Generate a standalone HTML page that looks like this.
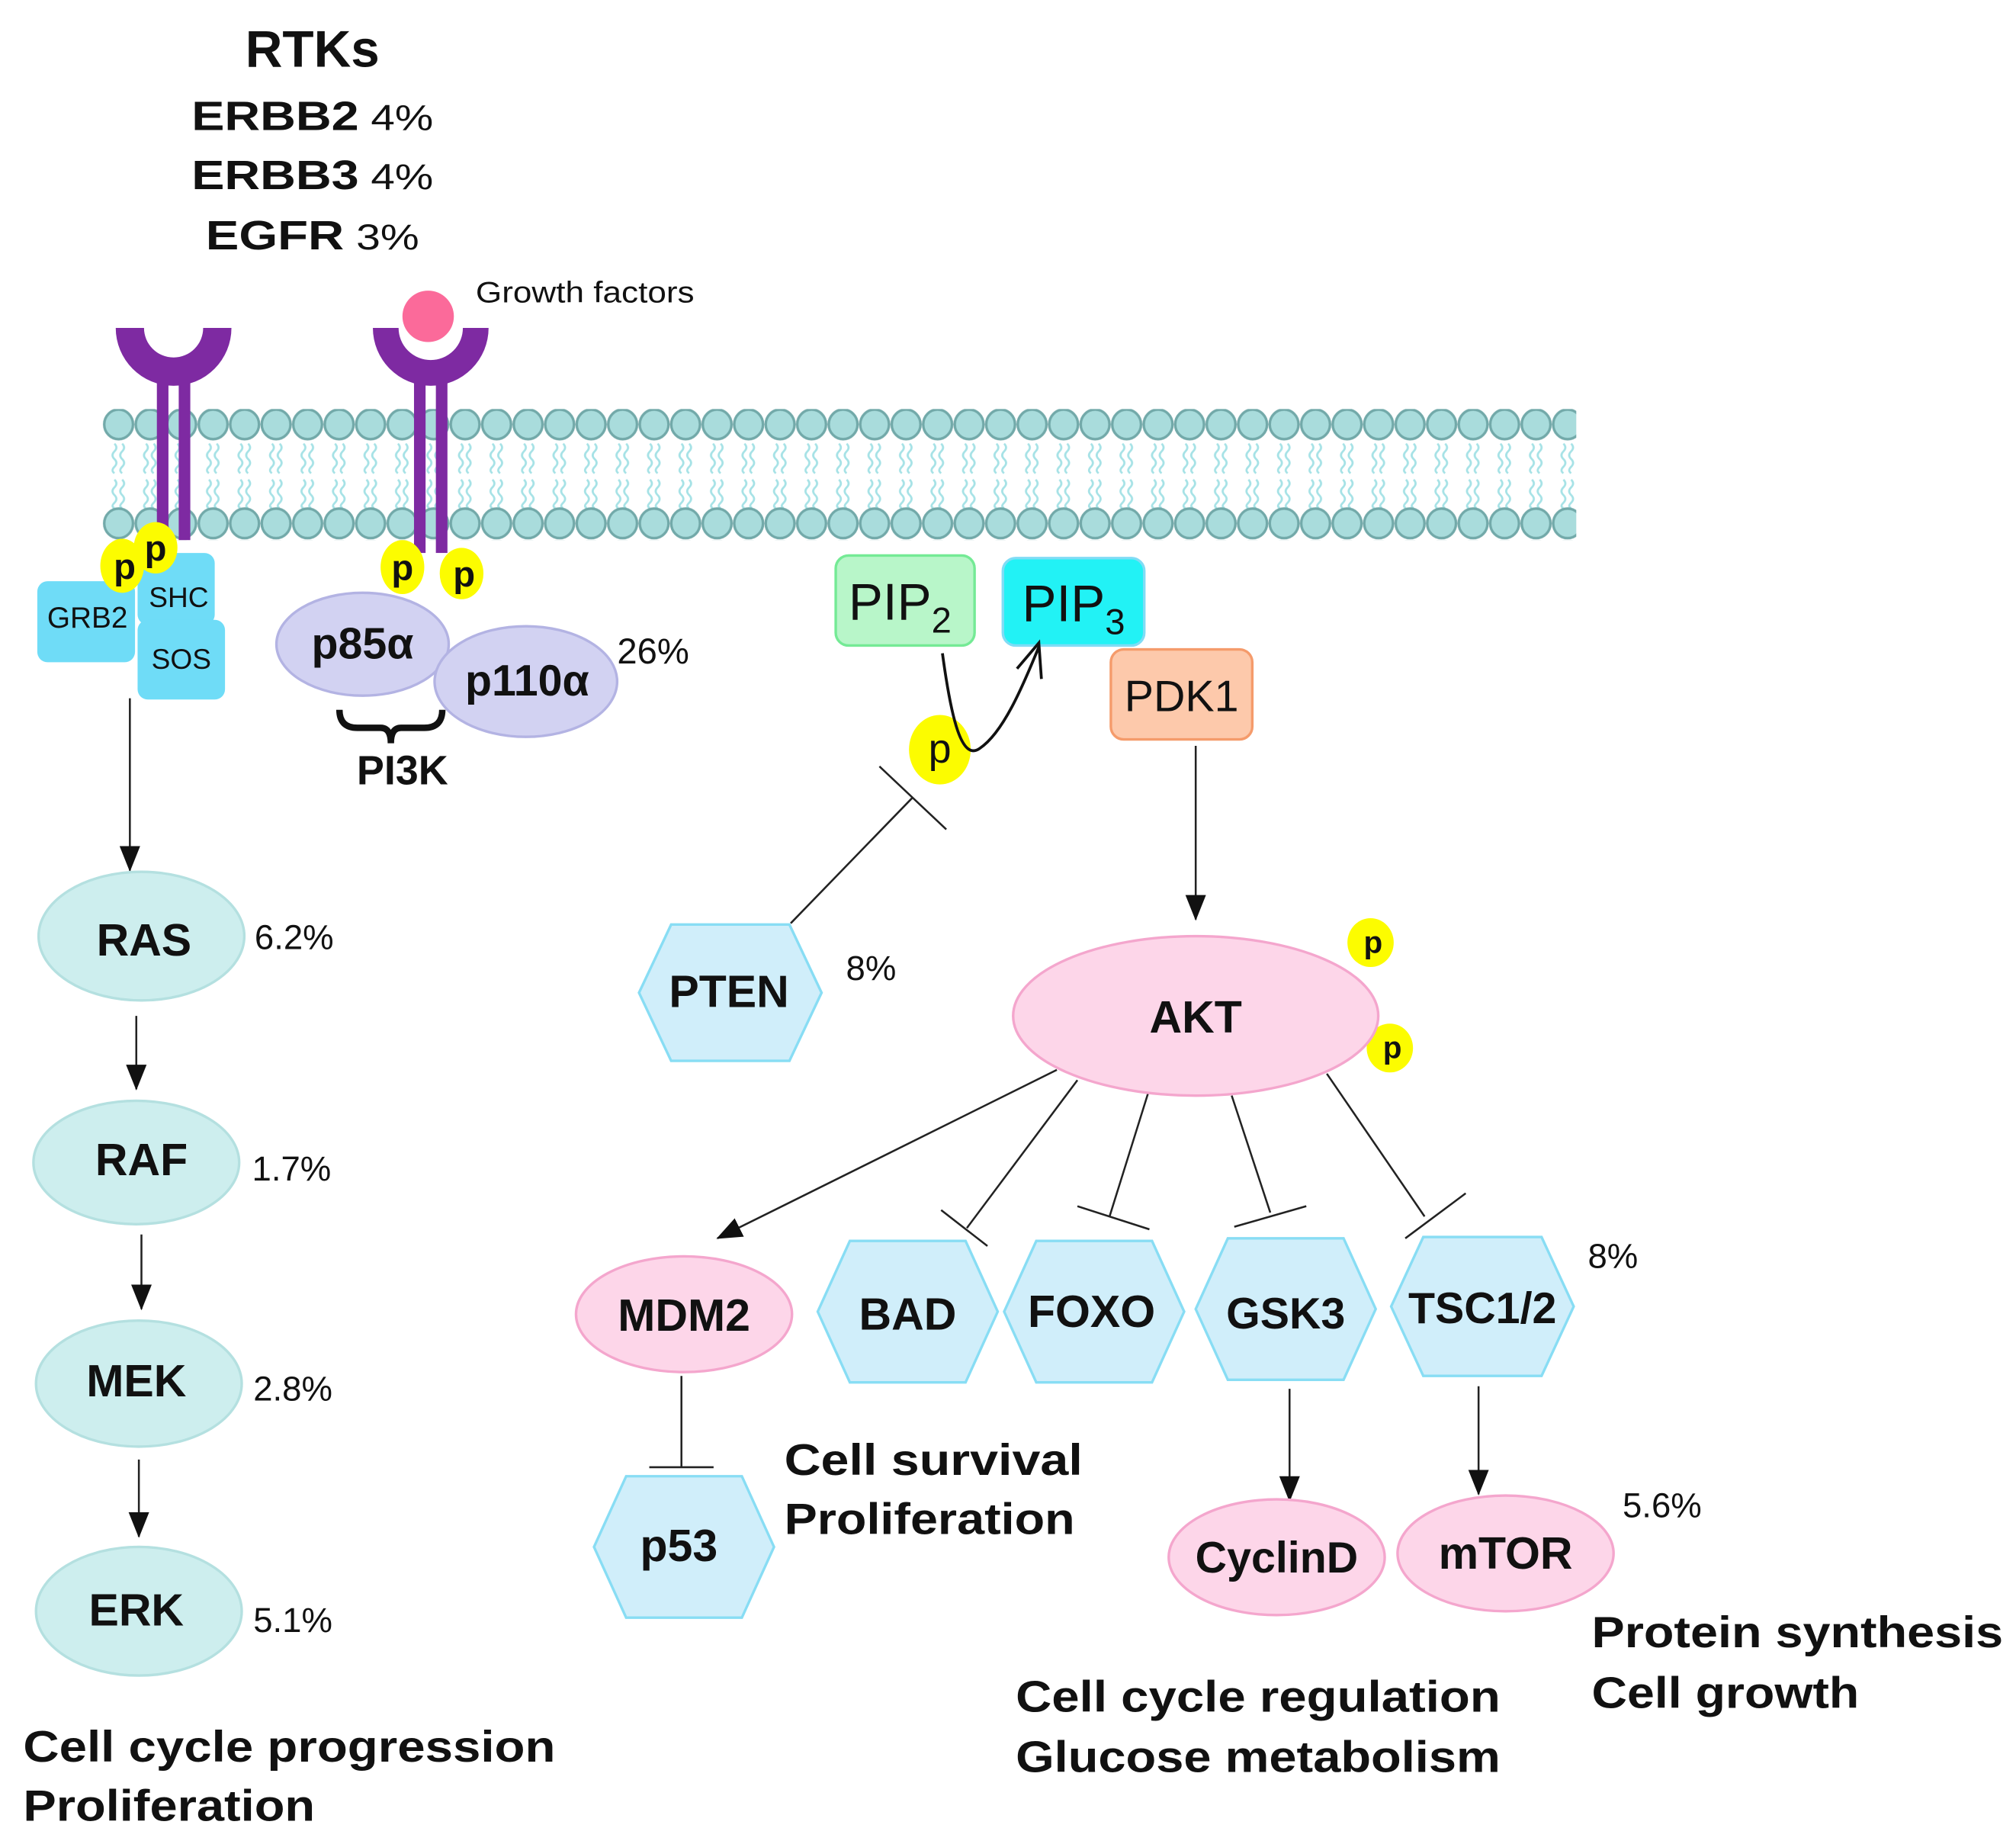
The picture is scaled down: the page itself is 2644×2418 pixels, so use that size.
<!DOCTYPE html>
<html><head><meta charset="utf-8"><style>
html,body{margin:0;padding:0;background:#fff;}
svg{display:block;}
text{font-family:"Liberation Sans",Arial,sans-serif;fill:#111;}
.b{font-weight:bold;}
</style></head><body>
<svg width="2644" height="2418" viewBox="0 0 1568 1434" xmlns="http://www.w3.org/2000/svg">
<defs>
<pattern id="mem" patternUnits="userSpaceOnUse" x="80" y="318" width="24.5" height="102">
<path d="M9,27 q3,3 0,6 q-3,3 0,6 q3,3 0,6 q-3,3 0,5 M15,27 q3,3 0,6 q-3,3 0,6 q3,3 0,6 q-3,3 0,5 M9,55 q3,3 0,6 q-3,3 0,6 q3,3 0,6 q-3,3 0,4 M15,55 q3,3 0,6 q-3,3 0,6 q3,3 0,6 q-3,3 0,4" fill="none" stroke="#a6e2e6" stroke-width="1.6"/>
<ellipse cx="12.25" cy="12" rx="11.2" ry="11.5" fill="#a9dcdc" stroke="#72a9a9" stroke-width="2"/>
<ellipse cx="12.25" cy="89" rx="11.2" ry="11.5" fill="#a9dcdc" stroke="#72a9a9" stroke-width="2"/>
</pattern>
<marker id="ar2" markerWidth="20" markerHeight="16" refX="19" refY="8" orient="auto" markerUnits="userSpaceOnUse"><path d="M0,0 L20,8 L0,16 Z" fill="#111"/></marker>
</defs>

<!-- header texts -->
<text x="243" y="52" class="b" font-size="40" text-anchor="middle">RTKs</text>
<text x="149" y="101" font-size="32" textLength="188" lengthAdjust="spacingAndGlyphs"><tspan class="b">ERBB2</tspan><tspan font-size="28"> 4%</tspan></text>
<text x="149" y="147" font-size="32" textLength="188" lengthAdjust="spacingAndGlyphs"><tspan class="b">ERBB3</tspan><tspan font-size="28"> 4%</tspan></text>
<text x="160" y="194" font-size="32" textLength="166" lengthAdjust="spacingAndGlyphs"><tspan class="b">EGFR</tspan><tspan font-size="28"> 3%</tspan></text>
<text x="370" y="235" font-size="23" textLength="170" lengthAdjust="spacingAndGlyphs">Growth  factors</text>

<!-- membrane -->
<rect x="80" y="318" width="1146" height="102" fill="url(#mem)"/>

<!-- receptors -->
<g fill="#7e2aa2">
<path d="M90,255 H112 A23,23 0 0 0 158,255 H180 A45,45 0 0 1 90,255 Z"/>
<rect x="122" y="295" width="9" height="130"/><rect x="139" y="295" width="9" height="125"/>
<path d="M290,255 H312 A23,23 0 0 0 358,255 H380 A45,45 0 0 1 290,255 Z"/>
<rect x="322" y="295" width="9" height="135"/><rect x="339" y="295" width="9" height="135"/>
</g>
<circle cx="333" cy="246" r="20" fill="#fb6a9a"/>
<path d="M312,255 A23,23 0 0 0 358,255" fill="none" stroke="#fff" stroke-width="4"/>

<!-- adaptor boxes -->
<rect x="107" y="430" width="60" height="56" rx="8" fill="#6fdcf7"/>
<rect x="29" y="452" width="76" height="63" rx="8" fill="#6fdcf7"/>
<rect x="107" y="482" width="68" height="62" rx="8" fill="#6fdcf7"/>
<text x="68" y="488" font-size="23" text-anchor="middle">GRB2</text>
<text x="139" y="472" font-size="22" text-anchor="middle">SHC</text>
<text x="141" y="520" font-size="22" text-anchor="middle">SOS</text>

<!-- p circles -->
<g fill="#fcfc00">
<ellipse cx="95" cy="440" rx="17" ry="21"/><ellipse cx="121" cy="426" rx="17" ry="20"/>
<ellipse cx="313" cy="441" rx="17" ry="21"/><ellipse cx="359" cy="446" rx="17" ry="20"/>
<ellipse cx="731" cy="583" rx="24" ry="27"/>
<ellipse cx="1066" cy="733" rx="18" ry="19"/><ellipse cx="1081" cy="815" rx="18" ry="19"/>
</g>
<g class="b" font-size="28" text-anchor="middle">
<text x="97" y="450">p</text><text x="121" y="436">p</text>
<text x="313" y="451">p</text><text x="361" y="456">p</text>
<text x="731" y="593" font-size="32" font-weight="normal">p</text>
<text x="1068" y="741" font-size="24">p</text><text x="1083" y="823" font-size="24">p</text>
</g>

<!-- PI3K -->
<ellipse cx="282" cy="501" rx="67" ry="40" fill="#d2d2f2" stroke="#b3b3e3" stroke-width="2"/>
<ellipse cx="409" cy="530" rx="71" ry="43" fill="#d2d2f2" stroke="#b3b3e3" stroke-width="2"/>
<text x="282" y="512" class="b" font-size="34" text-anchor="middle">p85α</text>
<text x="410" y="541" class="b" font-size="34" text-anchor="middle">p110α</text>
<text x="480" y="516" font-size="28">26%</text>
<path d="M264,552 q0,14 14,14 h18 q8,0 8,12 q0,-12 8,-12 h18 q14,0 14,-14" fill="none" stroke="#111" stroke-width="5"/>
<text x="313" y="610" class="b" font-size="32" text-anchor="middle">PI3K</text>

<!-- PIP2 / PIP3 / PDK1 -->
<rect x="650" y="432" width="108" height="70" rx="10" fill="#b8f6c9" stroke="#74ea95" stroke-width="2"/>
<rect x="780" y="434" width="110" height="68" rx="10" fill="#22f2f5" stroke="#80dcf5" stroke-width="2"/>
<rect x="864" y="505" width="110" height="70" rx="10" fill="#fdc9ab" stroke="#f59b6b" stroke-width="2"/>
<text x="660" y="482" font-size="40">PIP<tspan font-size="28" dy="10">2</tspan></text>
<text x="795" y="483" font-size="40">PIP<tspan font-size="28" dy="10">3</tspan></text>
<text x="919" y="553" font-size="34" text-anchor="middle">PDK1</text>
<path d="M733,508 C740,560 748,592 762,582 C780,570 795,535 808,503" fill="none" stroke="#111" stroke-width="2.2"/>
<path d="M791,520 L808,500 L810,528" fill="none" stroke="#111" stroke-width="2.2"/>

<!-- connectors -->
<g stroke="#222" stroke-width="1.5" fill="none">
<line x1="101" y1="543" x2="101" y2="677" marker-end="url(#ar2)"/>
<line x1="106" y1="790" x2="106" y2="847" marker-end="url(#ar2)"/>
<line x1="110" y1="960" x2="110" y2="1018" marker-end="url(#ar2)"/>
<line x1="108" y1="1135" x2="108" y2="1195" marker-end="url(#ar2)"/>
<line x1="930" y1="580" x2="930" y2="715" marker-end="url(#ar2)"/>
<line x1="822" y1="832" x2="558" y2="963" marker-end="url(#ar2)"/>
<line x1="1003" y1="1080" x2="1003" y2="1167" marker-end="url(#ar2)"/>
<line x1="1150" y1="1078" x2="1150" y2="1162" marker-end="url(#ar2)"/>
<line x1="615" y1="718" x2="710" y2="620"/><line x1="684" y1="596" x2="736" y2="645"/>
<line x1="838" y1="840" x2="752" y2="955"/><line x1="732" y1="941" x2="768" y2="969"/>
<line x1="893" y1="850" x2="863" y2="946"/><line x1="838" y1="938" x2="894" y2="956"/>
<line x1="958" y1="852" x2="988" y2="943"/><line x1="960" y1="954" x2="1016" y2="938"/>
<line x1="1032" y1="835" x2="1108" y2="946"/><line x1="1093" y1="963" x2="1140" y2="928"/>
<line x1="530" y1="1070" x2="530" y2="1141"/><line x1="505" y1="1141" x2="555" y2="1141"/>
</g>

<!-- ellipses left -->
<g fill="#cdeeee" stroke="#b4e0e0" stroke-width="2">
<ellipse cx="110" cy="728" rx="80" ry="50"/>
<ellipse cx="106" cy="904" rx="80" ry="48"/>
<ellipse cx="108" cy="1076" rx="80" ry="49"/>
<ellipse cx="108" cy="1253" rx="80" ry="50"/>
</g>
<g class="b" font-size="35" text-anchor="middle">
<text x="112" y="743">RAS</text><text x="110" y="914">RAF</text>
<text x="106" y="1086">MEK</text><text x="106" y="1264">ERK</text>
</g>
<g font-size="27">
<text x="198" y="738">6.2%</text><text x="196" y="918">1.7%</text>
<text x="197" y="1089">2.8%</text><text x="197" y="1269">5.1%</text>
<text x="658" y="762">8%</text><text x="1235" y="986">8%</text><text x="1262" y="1180">5.6%</text>
</g>

<!-- pink ellipses -->
<g fill="#fdd6e9" stroke="#f4a6cd" stroke-width="2">
<ellipse cx="930" cy="790" rx="142" ry="62"/>
<ellipse cx="532" cy="1022" rx="84" ry="45"/>
<ellipse cx="993" cy="1211" rx="84" ry="45"/>
<ellipse cx="1171" cy="1208" rx="84" ry="45"/>
</g>
<g class="b" font-size="35" text-anchor="middle">
<text x="930" y="803">AKT</text>
<text x="532" y="1035">MDM2</text>
<text x="993" y="1223" font-size="34">CyclinD</text>
<text x="1171" y="1220">mTOR</text>
</g>

<!-- hexagons -->
<g fill="#d0eefa" stroke="#88ddf4" stroke-width="2">
<polygon points="497,772 522,719 614,719 639,772 614,825 522,825"/>
<polygon points="636,1020 661,965 751,965 776,1020 751,1075 661,1075"/>
<polygon points="781,1020 806,965 896,965 921,1020 896,1075 806,1075"/>
<polygon points="930,1018 955,963 1045,963 1070,1018 1045,1073 955,1073"/>
<polygon points="1082,1016 1107,962 1199,962 1224,1016 1199,1070 1107,1070"/>
<polygon points="462,1203 487,1148 577,1148 602,1203 577,1258 487,1258"/>
</g>
<g class="b" font-size="35" text-anchor="middle">
<text x="567" y="783">PTEN</text>
<text x="706" y="1034">BAD</text>
<text x="849" y="1032">FOXO</text>
<text x="1000" y="1033" font-size="34">GSK3</text>
<text x="1153" y="1029" font-size="34">TSC1/2</text>
<text x="528" y="1214">p53</text>
</g>

<!-- outcome texts -->
<g class="b" font-size="34">
<text x="18" y="1370" textLength="414" lengthAdjust="spacingAndGlyphs">Cell cycle progression</text>
<text x="18" y="1416" textLength="227" lengthAdjust="spacingAndGlyphs">Proliferation</text>
<text x="610" y="1147" textLength="232" lengthAdjust="spacingAndGlyphs">Cell survival</text>
<text x="610" y="1193" textLength="226" lengthAdjust="spacingAndGlyphs">Proliferation</text>
<text x="790" y="1331" textLength="377" lengthAdjust="spacingAndGlyphs">Cell cycle regulation</text>
<text x="790" y="1378" textLength="377" lengthAdjust="spacingAndGlyphs">Glucose metabolism</text>
<text x="1238" y="1281" textLength="320" lengthAdjust="spacingAndGlyphs">Protein synthesis</text>
<text x="1238" y="1328" textLength="208" lengthAdjust="spacingAndGlyphs">Cell growth</text>
</g>
</svg>
</body></html>
